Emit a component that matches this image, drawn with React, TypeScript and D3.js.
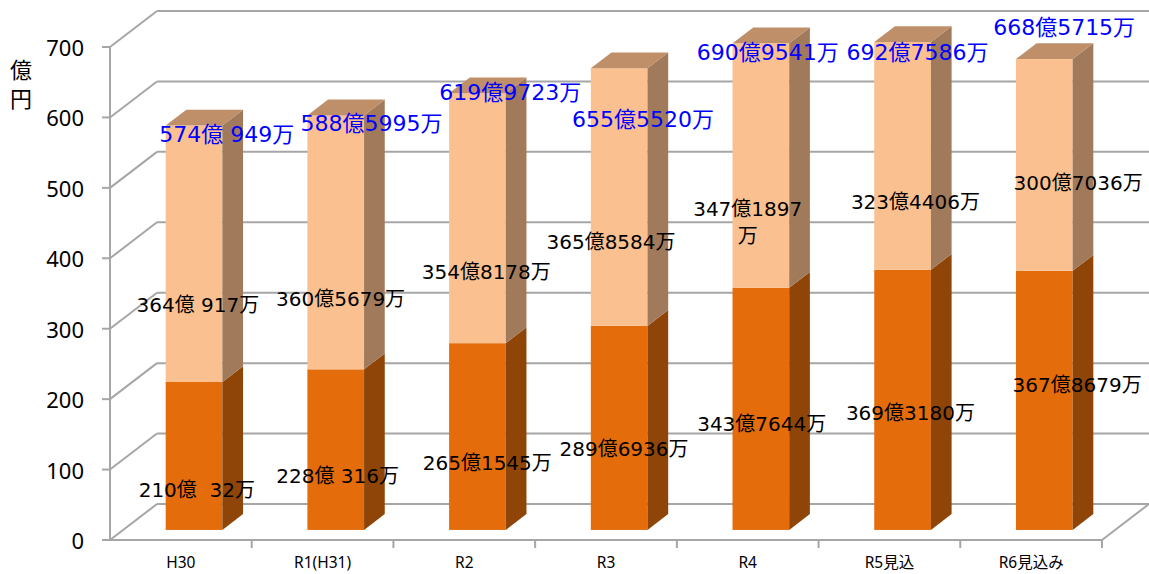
import React from "react";
import * as d3 from "d3";

const categories = ["H30", "R1(H31)", "R2", "R3", "R4", "R5見込", "R6見込み"];
const lowerValues = [210.0032, 228.0316, 265.1545, 289.6936, 343.7644, 369.318, 367.8679];
const upperValues = [364.0917, 360.5679, 354.8178, 365.8584, 347.1897, 323.4406, 300.7036];
const lowerLabels = ["210億  32万", "228億 316万", "265億1545万", "289億6936万", "343億7644万", "369億3180万", "367億8679万"];
const upperLabels = ["364億 917万", "360億5679万", "354億8178万", "365億8584万", "347億1897\n万", "323億4406万", "300億7036万"];
const totalLabels = ["574億 949万", "588億5995万", "619億9723万", "655億5520万", "690億9541万", "692億7586万", "668億5715万"];
const yTicks = [0, 100, 200, 300, 400, 500, 600, 700];

// label anchor positions (value units on the axis, x offsets in px from category centre)
const lowerLabelAt = [71, 91, 109, 129, 165, 180, 220];
const lowerLabelDx = [16, 15, 23, 18, 14, 21, 46];
const upperLabelAt = [334, 342, 380, 423, 470, 480, 507];
const upperLabelDx = [17, 18, 22, 5, 0, 26, 47];
const totalLabelAt = [576, 592, 636, 598, 693, 693, 728];
const totalLabelDx = [46, 49, 46, 37, 20, 28, 33];

const W = 1149;
const H = 574;
const left = 110;
const right = 1102;
const depthX = 47;
const depthY = -36;
const barFront = 0.28;
const barBack = 0.72;

export default function App() {
  const y = d3.scaleLinear().domain([0, 700]).range([540, 47]);
  const x = d3.scaleBand<string>().domain(categories).range([left, right]).padding(0);
  const bw = x.bandwidth();
  const barW = bw * 0.4;
  const fx = depthX * barFront;
  const fy = depthY * barFront;
  const sx = depthX * (barBack - barFront);
  const sy = depthY * (barBack - barFront);
  const grid = "#A6A6A6";
  const labelFont = "'DejaVu Sans', 'Noto Sans CJK JP', sans-serif";

  const seg = (i: number, v0: number, v1: number, front: string, side: string, top: string | null) => {
    const x0 = (x(categories[i]) as number) + bw / 2 - barW / 2 + fx;
    const x1 = x0 + barW;
    const yt = y(v1) + fy;
    const yb = y(v0) + fy;
    const sidePts = `${x1},${yb} ${x1 + sx},${yb + sy} ${x1 + sx},${yt + sy} ${x1},${yt}`;
    const topPts = `${x0},${yt} ${x0 + sx},${yt + sy} ${x1 + sx},${yt + sy} ${x1},${yt}`;
    return (
      <g key={`${i}-${v0}`}>
        <rect x={x0} y={yt} width={barW} height={yb - yt} fill={front} />
        <polygon points={sidePts} fill={side} />
        {top && <polygon points={topPts} fill={top} />}
      </g>
    );
  };

  const label = (i: number, at: number, dx: number, text: string, color: string, size: number, key: string) => {
    const cx = (x(categories[i]) as number) + bw / 2 + dx;
    const lines = text.split("\n");
    return (
      <text key={key} x={cx} y={y(at)} fill={color} fontSize={size} fontFamily={labelFont} textAnchor="middle" dominantBaseline="central" style={{ whiteSpace: "pre" }}>
        {lines.map((l, k) => (
          <tspan key={k} x={cx} dy={k === 0 ? 0 : size * 1.35}>
            {l}
          </tspan>
        ))}
      </text>
    );
  };

  return (
    <svg width={W} height={H} style={{ position: "absolute", left: 0, top: 0, background: "#fff" }}>
      {/* walls */}
      {yTicks.map((t) => (
        <g key={`g${t}`}>
          <line x1={left} y1={y(t)} x2={left + depthX} y2={y(t) + depthY} stroke={grid} strokeWidth={2} />
          <line x1={left + depthX} y1={y(t) + depthY} x2={W} y2={y(t) + depthY} stroke={grid} strokeWidth={2} />
        </g>
      ))}
      {/* floor right edge */}
      <line x1={right} y1={y(0)} x2={right + depthX} y2={y(0) + depthY} stroke={grid} strokeWidth={2} />
      {/* y axis */}
      <line x1={left} y1={y(0)} x2={left} y2={y(700)} stroke={grid} strokeWidth={2} />
      {yTicks.map((t) => (
        <line key={`t${t}`} x1={left - 8} y1={y(t)} x2={left} y2={y(t)} stroke={grid} strokeWidth={2} />
      ))}
      {yTicks.map((t) => (
        <text key={`yl${t}`} x={84} y={y(t)} fontSize={22} fontFamily="'Noto Sans', sans-serif" textAnchor="end" dominantBaseline="central" fill="#000">
          {t}
        </text>
      ))}
      {/* x axis */}
      <line x1={left} y1={y(0)} x2={right} y2={y(0)} stroke={grid} strokeWidth={2} />
      {categories.map((c, i) => (
        <line key={`xt${i}`} x1={(x(c) as number) + bw} y1={y(0)} x2={(x(c) as number) + bw} y2={y(0) + 8} stroke={grid} strokeWidth={2} />
      ))}
      {categories.map((c) => (
        <text key={`xl${c}`} x={(x(c) as number) + bw / 2} y={562} fontSize={15.5} fontFamily="'Noto Sans', 'Noto Sans CJK JP', sans-serif" textAnchor="middle" dominantBaseline="central" fill="#000">
          {c}
        </text>
      ))}
      {/* axis title */}
      <text x={21} y={68} fontSize={22} fontFamily="'Noto Sans CJK JP', sans-serif" textAnchor="middle" dominantBaseline="central">億</text>
      <text x={21} y={97} fontSize={22} fontFamily="'Noto Sans CJK JP', sans-serif" textAnchor="middle" dominantBaseline="central">円</text>
      {/* bars */}
      {categories.map((c, i) => (
        <g key={`b${c}`}>
          {seg(i, 0, lowerValues[i], "#E46C0A", "#8F4507", null)}
          {seg(i, lowerValues[i], lowerValues[i] + upperValues[i], "#FAC08F", "#A07A5A", "#BF8F6A")}
        </g>
      ))}
      {/* labels */}
      {categories.map((c, i) => label(i, lowerLabelAt[i], lowerLabelDx[i], lowerLabels[i], "#000", 20, `ll${i}`))}
      {categories.map((c, i) => label(i, upperLabelAt[i], upperLabelDx[i], upperLabels[i], "#000", 20, `ul${i}`))}
      {categories.map((c, i) => label(i, totalLabelAt[i], totalLabelDx[i], totalLabels[i], "#0000FF", 22, `tl${i}`))}
    </svg>
  );
}
